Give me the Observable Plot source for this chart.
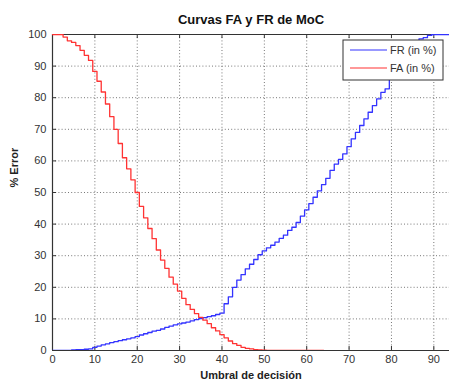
<!DOCTYPE html>
<html>
<head>
<meta charset="utf-8">
<script src="https://cdn.jsdelivr.net/npm/d3@7"></script>
<script src="https://cdn.jsdelivr.net/npm/@observablehq/plot@0.6"></script>
<style>
  html, body { margin: 0; padding: 0; background: #fff; }
  #chart svg { display: block; }
</style>
</head>
<body>
<div id="chart"></div>
<script>
const title = "Curvas FA y FR de MoC";
const xLabel = "Umbral de decisión";
const yLabel = "% Error";
const seriesNames = ["FR (in %)", "FA (in %)"];
const xTicks = [0, 10, 20, 30, 40, 50, 60, 70, 80, 90];
const yTicks = [0, 10, 20, 30, 40, 50, 60, 70, 80, 90, 100];

// decision thresholds (x)
const umbral = [0, 1, 2, 3, 4, 5, 6, 7, 8, 9, 10, 11, 12, 13, 14, 15, 16, 17, 18, 19,
  20, 21, 22, 23, 24, 25, 26, 27, 28, 29, 30, 31, 32, 33, 34, 35, 36, 37, 38, 39,
  40, 41, 42, 43, 44, 45, 46, 47, 48, 49, 50, 51, 52, 53, 54, 55, 56, 57, 58, 59,
  60, 61, 62, 63, 64, 65, 66, 67, 68, 69, 70, 71, 72, 73, 74, 75, 76, 77, 78, 79,
  80, 81, 82, 83, 84, 85, 86, 87, 88, 89, 90, 91, 92, 93, 94];

// False rejection (blue)
const fr = [0, 0, 0, 0, 0, 0.2, 0.3, 0.3, 0.4, 0.5, 1, 1.4, 1.8, 2.1, 2.5, 2.8, 3.1, 3.4, 3.7, 4,
  4.4, 4.9, 5.3, 5.7, 6.1, 6.4, 6.8, 7.3, 7.7, 8.1, 8.4, 8.7, 9, 9.4, 9.8, 10.1, 10.4, 10.7, 11, 11.4,
  11.8, 14.8, 17, 20, 22.3, 24, 25.8, 27.3, 28.8, 30.3, 31.5, 32.5, 33.3, 34.3, 35.5, 36.5, 38, 39, 40.5, 42.5,
  44.5, 46.5, 48.5, 50.5, 52.5, 54.5, 57, 59, 60.5, 62.2, 64.5, 67, 69, 71.2, 73.3, 75.4, 77.5, 79.6, 81.7, 82.8,
  88, 90.5, 92.5, 94.5, 96, 97.2, 98, 98.6, 99, 99.7, 100, 100, 100, 100, 100];

// False acceptance (red)
const fa = [100, 100, 100, 99.2, 98, 97.5, 96.5, 95, 93.4, 91.8, 88.3, 85.2, 81.8, 78, 74, 70, 65.5, 61, 57.5, 54,
  50, 45.6, 42, 38.6, 35.4, 31.8, 28.6, 26, 23.2, 21, 18.8, 16.5, 14.5, 13, 11.7, 10.5, 9.6, 8.5, 7.2, 6.2,
  5, 4, 3, 2.2, 1.6, 1, 0.7, 0.5, 0.3, 0.2, 0.1, 0, 0, 0, 0, 0, 0, 0, 0, 0,
  0, 0, 0, 0, 0];

const colors = ["#3333ff", "#ff3333"];

const frData = fr.map((v, i) => ({u: umbral[i], v}));
const faData = fa.map((v, i) => ({u: umbral[i], v}));

const W = 449, H = 383;
const mL = 52, mR = 0, mT = 34, mB = 33;
const frameW = W - mL - mR, frameH = H - mT - mB;
const axisColor = "#333";

const plot = Plot.plot({
  width: W,
  height: H,
  marginLeft: mL,
  marginRight: mR,
  marginTop: mT,
  marginBottom: mB,
  style: {fontFamily: "'Liberation Sans', Arial, sans-serif", fontSize: "11px", color: "#333", background: "#fff"},
  x: {domain: [0, 93.7], ticks: xTicks, tickSize: 0, tickPadding: 5, label: null, tickFormat: d => d},
  y: {domain: [0, 100], ticks: yTicks, tickSize: 0, tickPadding: 6, label: null, tickFormat: d => d},
  marks: [
    Plot.ruleX(xTicks.filter(d => d > 0), {stroke: "#777", strokeDasharray: "1,2.2", strokeWidth: 1}),
    Plot.ruleY(yTicks.filter(d => d > 0 && d < 100), {stroke: "#777", strokeDasharray: "1,2.2", strokeWidth: 1}),
    Plot.ruleY([0, 100], {stroke: axisColor, strokeWidth: 1.2}),
    Plot.ruleX([0], {stroke: axisColor, strokeWidth: 1.2}),
    Plot.tickX(xTicks.filter(d => d > 0), {x: d => d, insetTop: frameH - 4, stroke: axisColor}),
    Plot.tickX(xTicks.filter(d => d > 0), {x: d => d, insetBottom: frameH - 4, stroke: axisColor}),
    Plot.tickY(yTicks.filter(d => d > 0 && d < 100), {y: d => d, insetRight: frameW - 4, stroke: axisColor}),
    Plot.line(frData, {x: "u", y: "v", curve: "step", stroke: colors[0], strokeWidth: 1.3, clip: true}),
    Plot.line(faData, {x: "u", y: "v", curve: "step", stroke: colors[1], strokeWidth: 1.3, clip: true}),
    Plot.text([title], {frameAnchor: "top", dy: -15, lineAnchor: "middle", fontWeight: "bold", fontSize: 13, fill: "#111"}),
    Plot.text([xLabel], {frameAnchor: "bottom", dy: 25, lineAnchor: "middle", fontWeight: "bold", fontSize: 11, fill: "#222"}),
    Plot.text([yLabel], {frameAnchor: "left", dx: -38, dy: -5, rotate: -90, lineAnchor: "middle", fontWeight: "bold", fontSize: 11, fill: "#222"})
  ]
});

document.getElementById("chart").appendChild(plot);

// MATLAB-style legend box in the top-right corner of the frame
const svg = d3.select(plot);
const lgW = 100, lgH = 40;
const lgX = W - mR - 6 - lgW, lgY = mT + 6;
const lg = svg.append("g")
  .attr("font-family", "'Liberation Sans', Arial, sans-serif")
  .attr("font-size", 11)
  .attr("text-anchor", "start");
lg.append("rect").attr("x", lgX).attr("y", lgY).attr("width", lgW).attr("height", lgH)
  .attr("fill", "#fff").attr("stroke", "#333").attr("stroke-width", 1);
seriesNames.forEach((name, i) => {
  const cy = lgY + 10 + i * 18;
  lg.append("line").attr("x1", lgX + 7).attr("x2", lgX + 44).attr("y1", cy).attr("y2", cy)
    .attr("stroke", colors[i]).attr("stroke-width", 1.2);
  lg.append("text").attr("x", lgX + 47).attr("y", cy).attr("dy", "0.35em")
    .attr("text-anchor", "start").attr("fill", "#333").text(name);
});
</script>
</body>
</html>
